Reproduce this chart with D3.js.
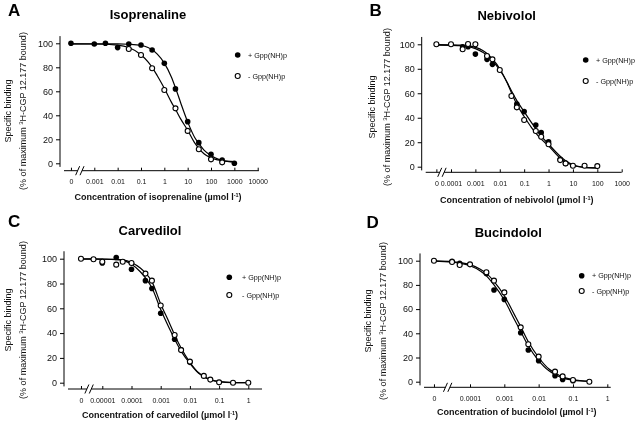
<!DOCTYPE html>
<html><head><meta charset="utf-8">
<script src="https://cdn.jsdelivr.net/npm/d3@7"></script>
<style>
body{margin:0;background:#fff}
svg{display:block;font-family:"Liberation Sans",Arial,Helvetica,sans-serif;will-change:transform;-webkit-font-smoothing:antialiased}
</style>
</head><body>
<svg id="c" width="640" height="423"></svg>
<script>
// ---------- shared texts / ticks ----------
const legendLabels = ["+ Gpp(NH)p", "- Gpp(NH)p"];
const yTicks = [0, 20, 40, 60, 80, 100];
const yLabel1 = "Specific binding";

// ---------- Panel A : Isoprenaline ----------
const aTicks = [0, 0.001, 0.01, 0.1, 1, 10, 100, 1000, 10000];
const aTickLabels = ["0", "0.001", "0.01", "0.1", "1", "10", "100", "1000", "10000"];
const aConc  = [0, 0.001, 0.003, 0.01, 0.03, 0.1, 0.3, 1, 3, 10, 30, 100, 300, 1000];
const aPlus  = [100, 99.4, 100, 96.4, 99.4, 98.6, 94.4, 83.3, 62, 34.7, 17.2, 7.5, 2.8, 0];
const aMinus = [null, null, null, null, 95.3, 90.3, 79.2, 61.1, 45.8, 27, 11.7, 3.3, 0.8, null];
const aFitConc  = [0, 0.001, 0.01, 0.03, 0.1, 0.2, 0.3, 0.5, 1, 2, 3, 5, 10, 20, 30, 50, 100, 200, 300, 1000];
const aFitPlus  = [99.6, 99.6, 99.5, 99.2, 98.3, 96.5, 94.6, 91, 83.5, 72, 63, 50.5, 34.5, 21.5, 16.5, 11, 6.5, 3.5, 2.5, 1];
const aFitMinus = [99.5, 99.4, 98.5, 96.5, 90.5, 84.5, 80, 73, 62.5, 51, 45, 37, 27.5, 17, 12.5, 8, 4.5, 2.8, 2, 1.5];

// ---------- Panel B : Nebivolol ----------
const bTicks = [0, 0.0001, 0.001, 0.01, 0.1, 1, 10, 100, 1000];
const bTickLabels = ["0", "0.0001", "0.001", "0.01", "0.1", "1", "10", "100", "1000"];
const bConc  = [0, 0.0001, 0.0003, 0.0005, 0.001, 0.003, 0.005, 0.01, 0.03, 0.05, 0.1, 0.3, 0.5, 1, 3, 5, 10, 30, 100];
const bPlus  = [null, null, 98, 98, 92, 87.7, 83.6, null, null, 51.2, 45, 34, 27.8, 20.4, 6, 2.7, null, null, null];
const bMinus = [100, 100, 96, 100.3, 100, 90.5, 87.7, 79, 57.8, 48.5, 38.1, 29.2, 24.5, 18.3, 5.4, 2.7, 0.8, 0.8, 0.5];
const bFitConc  = [0, 0.0001, 0.0003, 0.001, 0.002, 0.003, 0.005, 0.01, 0.02, 0.03, 0.05, 0.1, 0.2, 0.3, 0.5, 1, 2, 3, 5, 10, 30, 100];
const bFitPlus  = [99.3, 99.2, 98.8, 96.5, 93.5, 91, 86.5, 79, 69, 62, 54, 45, 36, 31, 25, 18.5, 12, 8.5, 4.8, 1.5, -0.5, -1];
const bFitMinus = [99.7, 99.6, 99.3, 97.5, 95, 92.5, 88, 80, 68.5, 60.5, 51, 41, 32, 27.5, 22.5, 17, 10.5, 7, 3.8, 1.2, -0.5, -1];

// ---------- Panel C : Carvedilol ----------
const cTicks = [0, 0.00001, 0.0001, 0.001, 0.01, 0.1, 1];
const cTickLabels = ["0", "0.00001", "0.0001", "0.001", "0.01", "0.1", "1"];
const cConc  = [0, 5e-6, 1e-5, 3e-5, 5e-5, 1e-4, 3e-4, 5e-4, 1e-3, 3e-3, 5e-3, 1e-2, 3e-2, 5e-2, 0.1, 0.3, 1];
const cPlus  = [null, null, 96.5, 101, null, 91.5, 82.3, 76, 56, 35, 26.5, 16.4, null, null, null, null, null];
const cMinus = [100, 99.5, 97.6, 95.2, 97.6, 96.5, 88, 82.3, 62.2, 38.5, 26.3, 17, 5.5, 2.5, 0.3, 0, 0];
const cFitConc  = [0, 5e-6, 1e-5, 3e-5, 5e-5, 1e-4, 2e-4, 3e-4, 5e-4, 1e-3, 2e-3, 3e-3, 5e-3, 1e-2, 2e-2, 3e-2, 5e-2, 0.1, 0.3, 1];
const cFitPlus  = [99.7, 99.7, 99.6, 99.2, 98.6, 95.5, 89.5, 84.5, 76.5, 59, 43.5, 35, 25.5, 15.5, 7.5, 4.8, 2.4, 0.8, 0.1, 0];
const cFitMinus = [99.8, 99.8, 99.7, 99.5, 99.1, 97, 92.5, 88.5, 81.5, 63.5, 48, 38.5, 28, 16.5, 8, 5, 2.5, 0.9, 0.1, 0];

// ---------- Panel D : Bucindolol ----------
const dTicks = [0, 0.0001, 0.001, 0.01, 0.1, 1];
const dTickLabels = ["0", "0.0001", "0.001", "0.01", "0.1", "1"];
const dConc  = [0, 3e-5, 5e-5, 1e-4, 3e-4, 5e-4, 1e-3, 3e-3, 5e-3, 1e-2, 3e-2, 5e-2, 0.1, 0.3];
const dPlus  = [null, 99.5, 97.8, null, 89.5, 75.8, 68, 40.5, 26.2, 17.4, 5, 1.9, 0.8, null];
const dMinus = [100, 98.9, 96.4, 97, 90.4, 83.5, 73.8, 44.9, 30.9, 20.7, 8.3, 4.4, 1.4, 0];
const dFitConc  = [0, 3e-5, 5e-5, 1e-4, 2e-4, 3e-4, 5e-4, 1e-3, 2e-3, 3e-3, 5e-3, 1e-2, 2e-2, 3e-2, 5e-2, 0.1, 0.3];
const dFitPlus  = [99.6, 98.8, 98, 95.8, 91.5, 87.5, 80, 67.5, 51, 41.5, 29.5, 17.5, 9, 6, 3.2, 1.3, 0.2];
const dFitMinus = [99.8, 99.2, 98.5, 96.8, 93, 89.5, 83, 71, 55, 45.5, 33, 20, 10.5, 7.2, 4, 1.8, 0.3];

// ---------- panel assembly (data + layout) ----------
const panels = [
  {letter:"A", title:"Isoprenaline", drug:"isoprenaline",
   ticks:aTicks, tickLabels:aTickLabels, conc:aConc, plus:aPlus, minus:aMinus,
   fitConc:aFitConc, fitPlus:aFitPlus, fitMinus:aFitMinus,
   L:{yAxisX:60, y0:163.3, y100:43.3, xAxisY:170.7, firstV:0.001, firstPx:94.3, lastV:10000, lastPx:257.7,
      zeroLog:-4, endLog:4.05, titleX:148, titleY:19, letterX:8, letterY:15.5,
      legX:237.7, legY1:55, legY2:76, legTextX:248, yl1X:7.3, yl2X:22.7, ylCY:111, xtX:158, xtY:196.7}},
  {letter:"B", title:"Nebivolol", drug:"nebivolol",
   ticks:bTicks, tickLabels:bTickLabels, conc:bConc, plus:bPlus, minus:bMinus,
   fitConc:bFitConc, fitPlus:bFitPlus, fitMinus:bFitMinus,
   L:{yAxisX:421.7, y0:166.7, y100:44.3, xAxisY:172.3, firstV:0.0001, firstPx:451, lastV:1000, lastPx:621.7,
      zeroLog:-4.6, endLog:3, titleX:506.7, titleY:19.5, letterX:369.5, letterY:15.5,
      legX:585.7, legY1:60, legY2:81, legTextX:596, yl1X:371.7, yl2X:386.7, ylCY:107, xtX:516.7, xtY:200}},
  {letter:"C", title:"Carvedilol", drug:"carvedilol",
   ticks:cTicks, tickLabels:cTickLabels, conc:cConc, plus:cPlus, minus:cMinus,
   fitConc:cFitConc, fitPlus:cFitPlus, fitMinus:cFitMinus,
   L:{yAxisX:64, y0:382.7, y100:258.7, xAxisY:389, firstV:0.00001, firstPx:102.3, lastV:1, lastPx:248.3,
      zeroLog:-5.73, endLog:0.47, titleX:150, titleY:235, letterX:8, letterY:227,
      legX:229.3, legY1:277.3, legY2:295, legTextX:242, yl1X:7.3, yl2X:22.7, ylCY:320, xtX:160, xtY:415}},
  {letter:"D", title:"Bucindolol", drug:"bucindolol",
   ticks:dTicks, tickLabels:dTickLabels, conc:dConc, plus:dPlus, minus:dMinus,
   fitConc:dFitConc, fitPlus:dFitPlus, fitMinus:dFitMinus,
   L:{yAxisX:420, y0:381.7, y100:260.7, xAxisY:387.3, firstV:0.0001, firstPx:470, lastV:1, lastPx:607.3,
      zeroLog:-5.05, endLog:0.1, titleX:508.3, titleY:237, letterX:366.5, letterY:227.5,
      legX:581.7, legY1:275.7, legY2:291, legTextX:592, yl1X:367.7, yl2X:382.7, ylCY:321, xtX:516.7, xtY:411.7}}
];

const svg = d3.select("#c");

panels.forEach(p => {
  const L = p.L;
  const g = svg.append("g");
  const y = d3.scaleLinear().domain([0, 100]).range([L.y0, L.y100]);
  const xs = d3.scaleLinear()
    .domain([Math.log10(L.firstV), Math.log10(L.lastV)])
    .range([L.firstPx, L.lastPx]);
  const lg = v => v === 0 ? L.zeroLog : Math.log10(v);
  const X = v => xs(lg(v));

  // ----- y axis -----
  g.append("line").attr("x1", L.yAxisX).attr("x2", L.yAxisX)
    .attr("y1", y(-3)).attr("y2", y(106)).attr("stroke", "#000").attr("stroke-width", 1);
  const ya = g.append("g").attr("transform", `translate(${L.yAxisX},0)`)
    .call(d3.axisLeft(y).tickValues(yTicks).tickSize(4).tickPadding(3).tickFormat(d3.format("d")));
  ya.select(".domain").remove();
  ya.selectAll("text").attr("font-size", 9).attr("font-family", null).attr("fill", "#111");
  ya.selectAll(".tick line").attr("stroke", "#000");

  // ----- x axis -----
  const xa = g.append("g").attr("transform", `translate(0,${L.xAxisY})`)
    .call(d3.axisBottom(xs).tickValues(p.ticks.map(lg)).tickSizeInner(-3).tickSizeOuter(0).tickPadding(8.7)
      .tickFormat((d, i) => p.tickLabels[i]));
  xa.select(".domain").remove();
  xa.selectAll("text").attr("font-size", 7).attr("font-family", null).attr("fill", "#111");
  xa.selectAll(".tick line").attr("stroke", "#000");
  // axis line with break
  const zx = xs(L.zeroLog);
  const fx = xs(Math.log10(L.firstV));
  const bc = zx + 0.38 * (fx - zx);
  const xStart = L.yAxisX + 4, xEnd = xs(L.endLog);
  g.append("line").attr("x1", xStart).attr("x2", bc - 2.2).attr("y1", L.xAxisY).attr("y2", L.xAxisY)
    .attr("stroke", "#000").attr("stroke-width", 1);
  g.append("line").attr("x1", bc + 2.2).attr("x2", xEnd).attr("y1", L.xAxisY).attr("y2", L.xAxisY)
    .attr("stroke", "#000").attr("stroke-width", 1);
  [-2.2, 2.2].forEach(o => {
    g.append("line").attr("x1", bc + o - 2).attr("y1", L.xAxisY + 4.5)
      .attr("x2", bc + o + 2).attr("y2", L.xAxisY - 4.5)
      .attr("stroke", "#000").attr("stroke-width", 1);
  });

  // ----- fitted curves -----
  const line = d3.line().x(d => X(d.c)).y(d => y(d.v)).curve(d3.curveMonotoneX);
  [p.fitPlus, p.fitMinus].forEach(arr => {
    const pts = p.fitConc.map((c, i) => ({c, v: arr[i]}));
    g.append("path").attr("d", line(pts)).attr("fill", "none")
      .attr("stroke", "#000").attr("stroke-width", 1.2);
  });

  // ----- data points -----
  const plusPts = p.conc.map((c, i) => ({c, v: p.plus[i]})).filter(d => d.v !== null);
  const minusPts = p.conc.map((c, i) => ({c, v: p.minus[i]})).filter(d => d.v !== null);
  g.selectAll(null).data(plusPts).join("circle")
    .attr("cx", d => X(d.c)).attr("cy", d => y(d.v)).attr("r", 2.8).attr("fill", "#000");
  g.selectAll(null).data(minusPts).join("circle")
    .attr("cx", d => X(d.c)).attr("cy", d => y(d.v)).attr("r", 2.5)
    .attr("fill", "#fff").attr("stroke", "#000").attr("stroke-width", 1.1);

  // ----- legend -----
  g.append("circle").attr("cx", L.legX).attr("cy", L.legY1).attr("r", 2.8).attr("fill", "#000");
  g.append("circle").attr("cx", L.legX).attr("cy", L.legY2).attr("r", 2.5)
    .attr("fill", "#fff").attr("stroke", "#000").attr("stroke-width", 1.1);
  g.append("text").attr("x", L.legTextX).attr("y", L.legY1 + 2.5).attr("font-size", 7.2)
    .attr("fill", "#111").text(legendLabels[0]);
  g.append("text").attr("x", L.legTextX).attr("y", L.legY2 + 2.5).attr("font-size", 7.2)
    .attr("fill", "#111").text(legendLabels[1]);

  // ----- titles -----
  g.append("text").attr("x", L.titleX).attr("y", L.titleY).attr("text-anchor", "middle")
    .attr("font-size", 13).attr("font-weight", "bold").text(p.title);
  g.append("text").attr("x", L.letterX).attr("y", L.letterY)
    .attr("font-size", 17).attr("font-weight", "bold").text(p.letter);

  // ----- y label (two lines, rotated) -----
  g.append("text").attr("transform", `translate(${L.yl1X + 3.2},${L.ylCY}) rotate(-90)`)
    .attr("text-anchor", "middle").attr("font-size", 9).attr("fill", "#111").text(yLabel1);
  const t2 = g.append("text").attr("transform", `translate(${L.yl2X + 3.2},${L.ylCY}) rotate(-90)`)
    .attr("text-anchor", "middle").attr("font-size", 9).attr("fill", "#111");
  t2.append("tspan").text("(% of maximum ");
  t2.append("tspan").attr("font-size", 6).attr("dy", -3).text("3");
  t2.append("tspan").attr("dy", 3).text("H-CGP 12.177 bound)");

  // ----- x title -----
  const xt = g.append("text").attr("x", L.xtX).attr("y", L.xtY + 3.2).attr("text-anchor", "middle")
    .attr("font-size", 9).attr("font-weight", "bold").attr("fill", "#111");
  xt.append("tspan").text(`Concentration of ${p.drug} (µmol l`);
  xt.append("tspan").attr("font-size", 5.5).attr("dy", -3).text("-1");
  xt.append("tspan").attr("dy", 3).text(")");
});
</script>
</body></html>
